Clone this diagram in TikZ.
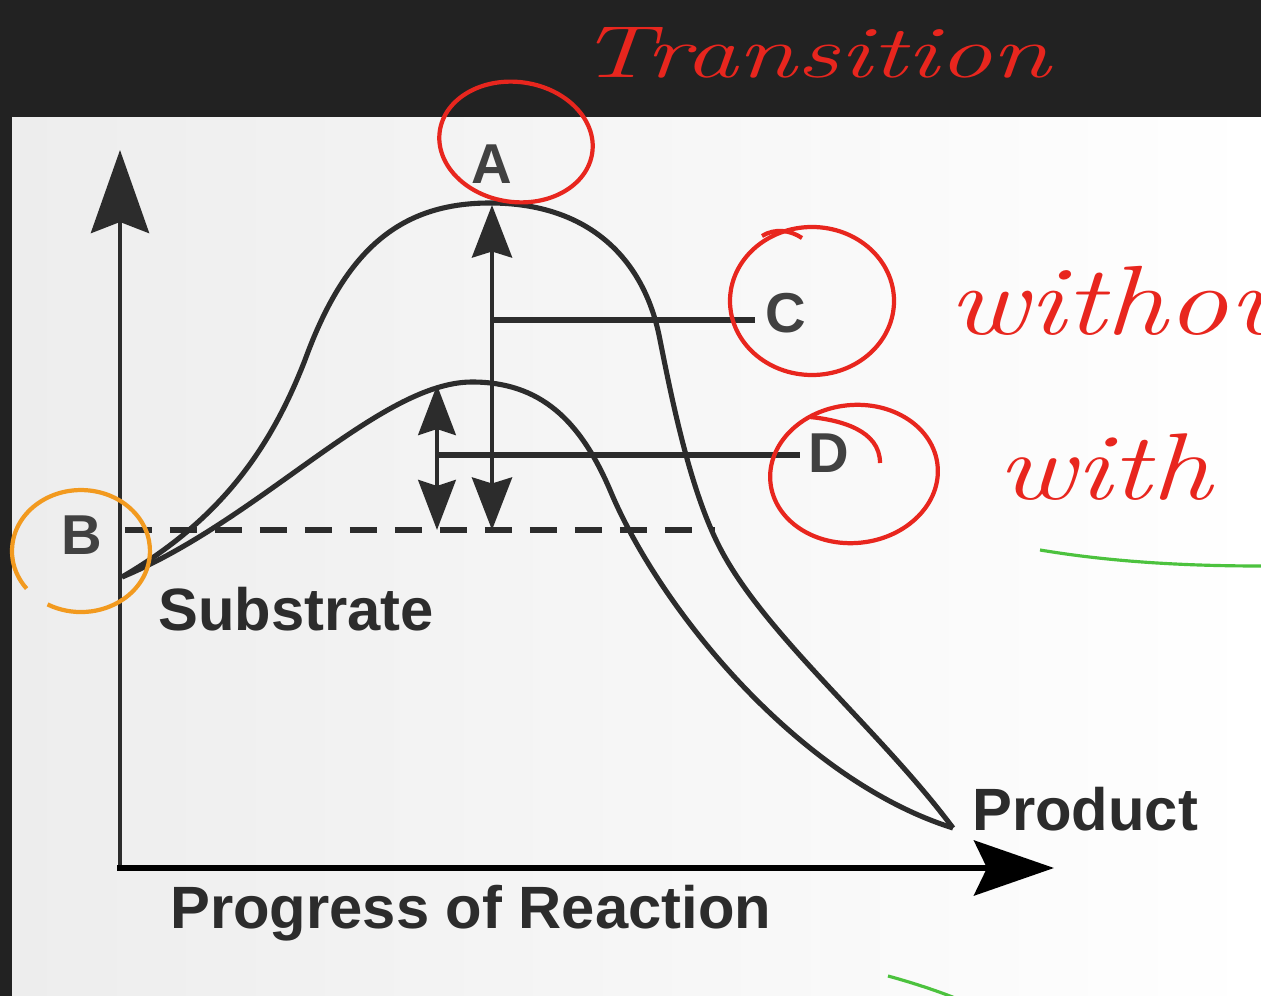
\documentclass[tikz,border=0pt]{standalone}
\usepackage{fontspec}
\newfontfamily\lblfont{Liberation Sans}
\usetikzlibrary{arrows.meta,calc}
\definecolor{slate}{HTML}{222222}
\definecolor{panel}{HTML}{EDEDED}
\definecolor{ink}{HTML}{2C2C2C}
\definecolor{pen}{HTML}{E8261E}
\definecolor{marker}{HTML}{F29A1F}
\definecolor{hilite}{HTML}{4CC23E}
\tikzset{
  axis/.style={draw=ink,line width=2.8pt,-{Stealth[length=1.66cm,width=1.16cm,inset=0.22cm]}},
  curve/.style={draw=ink,line width=2.9pt,line join=round},
  gap/.style={draw=ink,line width=2.6pt,
    {Stealth[length=1.05cm,width=0.8cm,inset=0.12cm]}-{Stealth[length=1.05cm,width=0.8cm,inset=0.12cm]}},
  lvl/.style={draw=ink,line width=2.9pt},
  lbl/.style={font=\lblfont\bfseries\fontsize{34}{36}\selectfont,text=ink,inner sep=0pt,anchor=base west},
  tag/.style={font=\lblfont\bfseries\fontsize{32}{34}\selectfont,text=ink!90,inner sep=0pt,anchor=base},
  ring/.style={draw=pen,line width=2.4pt},
  scrawl/.style={text=pen,inner sep=0pt,anchor=base west},
}

\begin{document}
\begin{tikzpicture}[x=0.02cm,y=-0.02cm]
  \useasboundingbox (0,0) rectangle (1261,996);
  \begin{scope}
  \clip (0,0) rectangle (1261,996);
  % screen and panel
  \fill[slate] (0,0) rectangle (1261,996);
  \shade[left color=panel,right color=white] (12,118) rectangle (1261,996);

  % axes
  \coordinate (o) at (120,868);
  \coordinate (ytip) at (120,150);
  \coordinate (xtip) at (1054,868);
  \draw[axis] (o) -- (ytip);
  \draw[axis,draw=black,line width=3.4pt,line cap=rect,
    -{Stealth[length=1.6cm,width=1.1cm,inset=0.26cm]}] (o) -- (xtip);

  % energy profiles
  \coordinate (sub) at (122,577);
  \coordinate (prod) at (953,828);
  \draw[curve] (sub) .. controls (220,520) and (270,450) .. (305,360)
    .. controls (345,250) and (400,203) .. (490,203)
    .. controls (590,203) and (645,260) .. (660,340)
    .. controls (672,400) and (690,490) .. (720,548)
    .. controls (765,635) and (880,730) .. (prod);
  \draw[curve] (sub) .. controls (260,520) and (380,382) .. (472,382)
    .. controls (540,382) and (580,420) .. (610,490)
    .. controls (660,610) and (800,780) .. (prod);

  % substrate level
  \draw[lvl,dash pattern=on 0.54cm off 0.36cm] (125,530) -- (715,530);

  % activation energies
  \coordinate (ta) at (492,205);
  \coordinate (tb) at (492,530);
  \coordinate (ca) at (437,385);
  \coordinate (cb) at (437,530);
  \draw[gap] (tb) -- (ta);
  \draw[gap,{Stealth[length=1cm,width=0.75cm,inset=0.12cm]}-{Stealth[length=1cm,width=0.75cm,inset=0.12cm]}] (cb) -- (ca);

  \node[tag] (labA) at (492,184) {A};
  \node[tag] (labB) at (82,555) {B};
  \node[tag] (labC) at (786,333) {C};
  \node[tag] (labD) at (829,473) {D};
  \draw[lvl] (492,320) -- (755,320);
  \draw[lvl] (437,455) -- (800,455);

  \node[lbl] (labS) at (158,630) {Substrate};
  \node[lbl] (labP) at (972,830) {Product};
  \node[lbl] (labX) at (170,928) {Progress of Reaction};

  % notes written over the slide
  \node[scrawl,font=\itshape\fontsize{42}{44}\selectfont,xscale=1.45] (nTr) at (578,78) {Transition};
  \node[scrawl,font=\itshape\fontsize{56}{58}\selectfont,xscale=1.25] (nWo) at (948,335) {without};
  \node[scrawl,font=\itshape\fontsize{54}{56}\selectfont,xscale=1.27] (nWi) at (997,500) {with};

  \draw[ring,rotate around={-8:(516,142)}] (516,142) ellipse [x radius=77,y radius=60];
  \draw[ring] (812,301) ellipse [x radius=82,y radius=74];
  \draw[ring] (762,236) .. controls (775,228) and (790,230) .. (802,238);
  \draw[ring,rotate around={6:(854,474)}] (854,474) ellipse [x radius=84,y radius=69];
  \draw[ring] (810,417) .. controls (840,420) and (880,430) .. (880,463);
  \draw[ring,draw=marker] (26.6,588.6) arc[start angle=142,end angle=479,x radius=69,y radius=61];

  \draw[hilite,line width=1.8pt] (1040,550) .. controls (1100,560) and (1170,566) .. (1261,566);
  \draw[hilite,line width=1.8pt] (888,976) .. controls (910,982) and (935,990) .. (955,998);
  \end{scope}
\end{tikzpicture}
\end{document}
